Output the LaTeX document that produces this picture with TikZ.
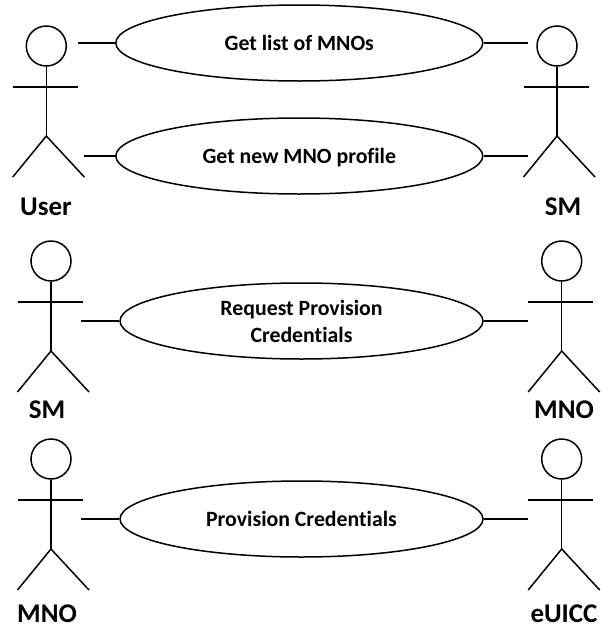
\documentclass[tikz,border=0pt]{standalone}
\usepackage{fontspec}
\setmainfont[Ligatures=NoCommon]{Carlito}
\usetikzlibrary{shapes.geometric}
\usetikzlibrary{calc}

\tikzset{
 stick/.style={black, line width=1.5pt},
 actorhead/.style={stick, draw, circle, minimum size=40, inner sep=0},
 actorname/.style={font=\fontsize{27}{27}\selectfont\bfseries, inner sep=0, anchor=base},
 usecase/.style={stick, draw, ellipse, inner sep=0, align=center,
  font=\fontsize{21.8}{27}\selectfont\bfseries},
}

\begin{document}
\begin{tikzpicture} [x=1pt, y=-1pt]
\useasboundingbox (0,0) rectangle (601,627);
% actors
\foreach \name/\x/\y/\txt/\lx/\ly in {user/46.3/46/User/46/215, smtop/557/46/SM/563/215,
  smleft/51/261/SM/47/418, mnoright/561.7/261/MNO/564/418,
  mnoleft/51/459/MNO/47/622.5, euicc/561.7/459/eUICC/564/622.5} {
 \node[actorhead] (\name) at (\x,\y) {};
 \coordinate (\name hip) at ($(\name)+(0,90)$);
 \draw[stick] (\name.south) -- (\name hip);
 \draw[stick] ($(\name)+(-33.5,41)$) --++(65,0);
 \draw[stick] ($(\name hip)+(-33.5,41)$) -- (\name hip) --++(38,41);
 \node[actorname] (\name label) at (\lx,\ly) {\txt};
}
% use cases
\node[usecase, minimum width=367, minimum height=76] (list) at (299.3,43) {Get list of MNOs};
\node[usecase, minimum width=367, minimum height=76, text depth=0pt] (profile) at (299.3,156) {Get new MNO profile};
\node[usecase, minimum width=363, minimum height=76] (request) at (301.5,321) {Request Provision\\Credentials};
\node[usecase, minimum width=363, minimum height=76] (provision) at (301.5,519) {Provision Credentials};
% connectors
\foreach \uc/\xl/\xr/\y in {list/78/528/43, profile/84/528/156, request/81/528/321, provision/81/528/519} {
 \coordinate (\uc left) at (\xl,\y);
 \coordinate (\uc right) at (\xr,\y);
 \draw[stick] (\uc left) -- (\uc.west);
 \draw[stick] (\uc.east) -- (\uc right);
}
\end{tikzpicture}
\end{document}
